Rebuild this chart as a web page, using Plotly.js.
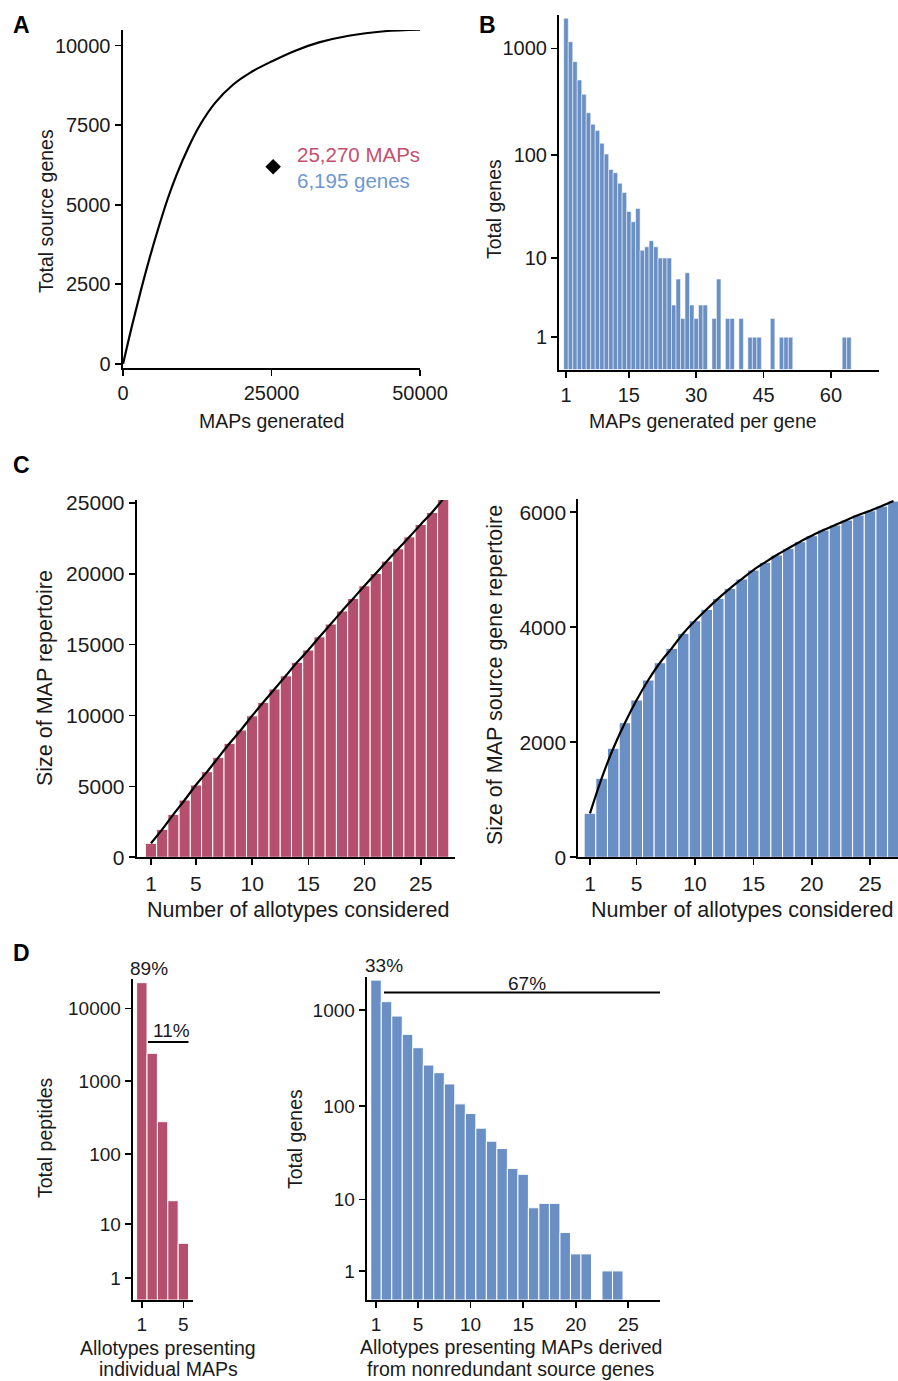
<!DOCTYPE html>
<html><head><meta charset="utf-8">
<script src="https://cdn.plot.ly/plotly-3.0.1.min.js"></script>
<style>html,body{margin:0;padding:0;background:#fff}#chart{width:898px;height:1381px}</style>
</head><body><div id="chart"></div>
<script>
// ---------- Panel A: saturation curve ----------
const mapsGenerated    = [0, 1500, 3000, 4500, 6000, 7500, 9000, 11000, 13000, 15500, 18500, 21500, 25000, 29000, 33000, 38000, 44000, 50000];
const totalSourceGenes = [0, 1200, 2310, 3350, 4300, 5180, 5940, 6800, 7520, 8200, 8770, 9160, 9500, 9840, 10100, 10310, 10450, 10500];
const observedMAPs  = [25270];
const observedGenes = [6195];

// ---------- Panel B: MAPs generated per gene ----------
const mapsPerGene = [1,2,3,4,5,6,7,8,9,10,11,12,13,14,15,16,17,18,19,20,21,22,23,24,25,26,27,28,29,30,31,32,33,34,35,36,37,38,39,40,41,42,43,44,45,46,47,48,49,50,51,52,53,54,55,56,57,58,59,60,61,62,63,64];
const genesPerBin = [1915,1157,752,507,372,250,195,170,129,102,73,68,54,44,29,23,31,12,13,15,13,10,10,10,3,6,2,7,3,2,3,3,0,2,6,0,2,2,0,2,0,1,1,1,0,0,2,0,1,1,1,0,0,0,0,0,0,0,0,0,0,0,1,1];

// ---------- Panel C: repertoire growth ----------
const allotypesConsidered = [1,2,3,4,5,6,7,8,9,10,11,12,13,14,15,16,17,18,19,20,21,22,23,24,25,26,27];
const mapRepertoire  = [990,1970,3030,4040,5100,6040,7050,8040,8980,9980,10930,11870,12800,13750,14620,15550,16450,17370,18260,19150,20020,20890,21760,22600,23480,24320,25270];
const geneRepertoire = [765,1374,1896,2341,2736,3083,3384,3634,3895,4114,4313,4504,4678,4840,4996,5130,5257,5374,5489,5593,5692,5779,5866,5953,6027,6109,6195];

// ---------- Panel D: allotypes presenting ----------
const allotypesPerMAP = [1,2,3,4,5];
const peptideCounts   = [22490,2415,278,22,5];
const allotypesPerGene = [1,2,3,4,5,6,7,8,9,10,11,12,13,14,15,16,17,18,19,20,21,22,23,24,25,26,27];
const geneCounts = [2040,1221,866,560,407,269,224,171,106,84,59,43,36,22,19,8,9,9,4,2,2,0,1,1,0,0,0];

// tick labels
const logTicks4 = [1,10,100,1000,10000];
const logTicks3 = [1,10,100,1000];
const lp = v => Math.log10(1 + v);   // log1p-style axis (as in the figure)

const PINK = '#b4506e', BLUE = '#6a8fc4';
const FONT = 'Liberation Sans, Arial, Helvetica, sans-serif';
const W = 898, H = 1381;
const xd = (a,b) => [a/W, b/W];
const yd = (t,b) => [1 - b/H, 1 - t/H];

function ax(extra, fs) {
  return Object.assign({
    showline: true, linecolor: '#000', linewidth: 2, mirror: false,
    ticks: 'outside', ticklen: 6, tickwidth: 1.6, tickcolor: '#000',
    showgrid: false, zeroline: false, fixedrange: true, tickformat: 'd',
    tickfont: {family: FONT, size: fs, color: '#1a1a1a'}
  }, extra);
}

const traces = [
  // A
  {type:'scatter', mode:'lines', x: mapsGenerated, y: totalSourceGenes, xaxis:'x', yaxis:'y',
   line:{color:'#000', width:2.2, shape:'spline', smoothing:1}, hoverinfo:'skip'},
  {type:'scatter', mode:'markers', x: observedMAPs, y: observedGenes, xaxis:'x', yaxis:'y',
   marker:{symbol:'diamond', size:12, color:'#000'}, hoverinfo:'skip'},
  // B
  {type:'bar', x: mapsPerGene, y: genesPerBin.map(lp), xaxis:'x2', yaxis:'y2', width: 1,
   marker:{color: BLUE, line:{color:'#fff', width:0.5}}, hoverinfo:'skip'},
  // C left
  {type:'bar', x: allotypesConsidered, y: mapRepertoire, xaxis:'x3', yaxis:'y3', width: 1,
   marker:{color: PINK, line:{color:'#fff', width:1}}, hoverinfo:'skip'},
  {type:'scatter', mode:'lines', x: allotypesConsidered, y: mapRepertoire, xaxis:'x3', yaxis:'y3',
   line:{color:'#000', width:2.2, shape:'spline'}, hoverinfo:'skip'},
  // C right
  {type:'bar', x: allotypesConsidered, y: geneRepertoire, xaxis:'x4', yaxis:'y4', width: 1,
   marker:{color: BLUE, line:{color:'#fff', width:1}}, hoverinfo:'skip'},
  {type:'scatter', mode:'lines', x: allotypesConsidered, y: geneRepertoire, xaxis:'x4', yaxis:'y4',
   line:{color:'#000', width:2.2, shape:'spline'}, hoverinfo:'skip'},
  // D left
  {type:'bar', x: allotypesPerMAP, y: peptideCounts.map(lp), xaxis:'x5', yaxis:'y5', width: 1,
   marker:{color: PINK, line:{color:'#fff', width:1}}, hoverinfo:'skip'},
  // D right
  {type:'bar', x: allotypesPerGene, y: geneCounts.map(lp), xaxis:'x6', yaxis:'y6', width: 1,
   marker:{color: BLUE, line:{color:'#fff', width:1}}, hoverinfo:'skip'}
];

function note(text, x, y, size, opts) {
  return Object.assign({text, x: x/W, y: 1 - y/H, xref:'paper', yref:'paper', showarrow:false,
    xanchor:'center', yanchor:'middle', font:{family: FONT, size, color:'#1a1a1a'}}, opts || {});
}
function vnote(text, x, y, size) { return note(text, x, y, size, {textangle: -90}); }

const annotations = [
  note('<b>A</b>', 21.5, 25.5, 23, {font:{family:FONT,size:23,color:'#000'}}),
  note('<b>B</b>', 487, 25, 23, {font:{family:FONT,size:23,color:'#000'}}),
  note('<b>C</b>', 21.5, 465, 23, {font:{family:FONT,size:23,color:'#000'}}),
  note('<b>D</b>', 21, 953, 23, {font:{family:FONT,size:23,color:'#000'}}),
  // A
  vnote('Total source genes', 46, 211, 19.5),
  note('MAPs generated', 271.5, 421.5, 19.5),
  note('25,270 MAPs', 295, 154, 20.5, {xanchor:'left', font:{family:FONT,size:20.5,color:'#c4506f'}}),
  note('6,195 genes', 295, 180, 20.5, {xanchor:'left', font:{family:FONT,size:20.5,color:'#6f97d2'}}),
  // B
  vnote('Total genes', 494, 209, 19.5),
  note('MAPs generated per gene', 702.5, 421.5, 19.5),
  // C
  vnote('Size of MAP repertoire', 45, 678, 21.5),
  note('Number of allotypes considered', 297.5, 910, 21.5),
  vnote('Size of MAP source gene repertoire', 495, 675, 21.5),
  note('Number of allotypes considered', 741.5, 910, 21.5),
  // D
  vnote('Total peptides', 45, 1138, 19.5),
  note('Allotypes presenting', 168, 1348, 19.5),
  note('individual MAPs', 168, 1369, 19.5),
  vnote('Total genes', 295, 1139, 19.5),
  note('Allotypes presenting MAPs derived', 511, 1347, 19.5),
  note('from nonredundant source genes', 511, 1369, 19.5),
  note('89%', 149, 968, 19),
  note('11%', 171.5, 1030, 19),
  note('33%', 384, 965, 19),
  note('67%', 527, 983, 19)
];

const shapes = [
  {type:'line', xref:'paper', yref:'paper', x0:148/W, x1:188.5/W, y0:1-1042/H, y1:1-1042/H, line:{color:'#000', width:2}},
  {type:'line', xref:'paper', yref:'paper', x0:384/W, x1:660/W, y0:1-992.5/H, y1:1-992.5/H, line:{color:'#000', width:2}}
];

const layout = {
  width: W, height: H, margin:{l:0,r:0,t:0,b:0,pad:0},
  paper_bgcolor:'#fff', plot_bgcolor:'#fff', showlegend:false, bargap:0,
  font:{family: FONT, color:'#1a1a1a'},
  xaxis:  ax({domain: xd(122.5,420), range:[-100,50000], tickvals:[0,25000,50000], anchor:'y'}, 20),
  yaxis:  ax({domain: yd(30,368), range:[-130,10490], tickvals:[0,2500,5000,7500,10000], anchor:'x'}, 20),
  xaxis2: ax({domain: xd(559,879), range:[-0.56,70.7], tickvals:[1,15,30,45,60], anchor:'y2'}, 20),
  yaxis2: ax({domain: yd(15,369.5), range:[0,3.313], tickvals: logTicks3.map(lp), ticktext: logTicks3.map(String), anchor:'x2'}, 20),
  xaxis3: ax({domain: xd(136.7,455), range:[-0.27,28.05], tickvals:[1,5,10,15,20,25], anchor:'y3'}, 21),
  yaxis3: ax({domain: yd(500,857.3), range:[0,25200], tickvals:[0,5000,10000,15000,20000,25000], anchor:'x3'}, 21),
  xaxis4: ax({domain: xd(578.3,898), range:[0,27.39], tickvals:[1,5,10,15,20,25], anchor:'y4'}, 21),
  yaxis4: ax({domain: yd(499.3,857.3), range:[0,6226], tickvals:[0,2000,4000,6000], anchor:'x4'}, 21),
  xaxis5: ax({domain: xd(132.7,192.7), range:[0.12,5.9], tickvals:[1,5], anchor:'y5'}, 19),
  yaxis5: ax({domain: yd(979.3,1300), range:[0,4.398], tickvals: logTicks4.map(lp), ticktext: logTicks4.map(String), anchor:'x5'}, 19),
  xaxis6: ax({domain: xd(366.7,660), range:[0.115,28.02], tickvals:[1,5,10,15,20,25], anchor:'y6'}, 19),
  yaxis6: ax({domain: yd(977.3,1300), range:[0,3.339], tickvals: logTicks3.map(lp), ticktext: logTicks3.map(String), anchor:'x6'}, 19),
  annotations, shapes
};

Plotly.newPlot('chart', traces, layout, {staticPlot:true, displayModeBar:false});
</script></body></html>
